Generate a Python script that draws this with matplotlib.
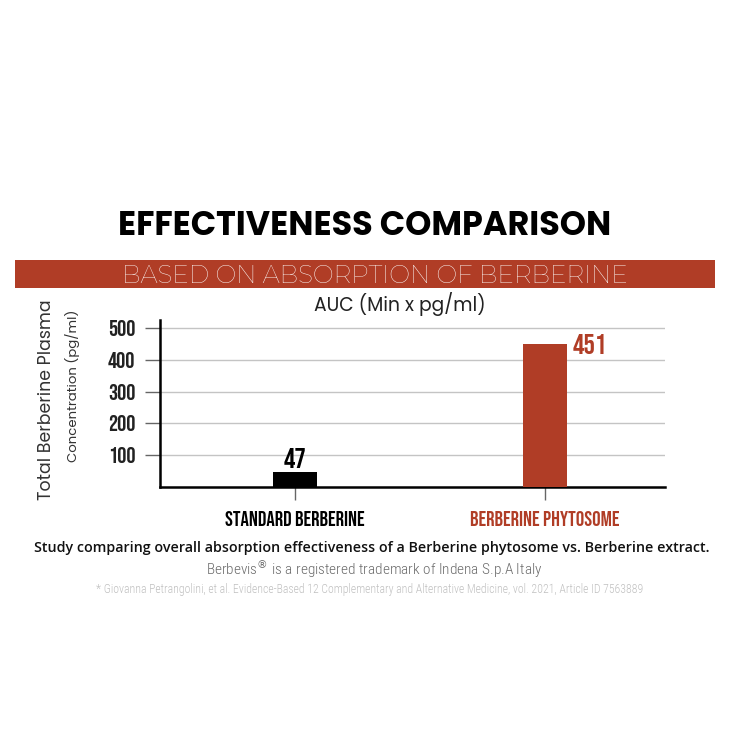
import matplotlib
matplotlib.use('Agg')
import matplotlib.pyplot as plt
from matplotlib.patches import Rectangle

categories = ['STANDARD BERBERINE', 'BERBERINE PHYTOSOME']
auc_values = [47, 451]
value_labels = ['47', '451']
y_ticks = [100, 200, 300, 400, 500]

RED = '#b03d26'
BODY = ['Poppins', 'DejaVu Sans']
WIDE = ['Montserrat', 'Poppins', 'DejaVu Sans']
BEBAS = ['Bebas Neue', 'Oswald', 'DejaVu Sans']
COND = ['Roboto Condensed', 'DejaVu Sans']

W = 744


def fx(px):
    return px / W


def fy(py):
    return 1 - py / W


fig = plt.figure(figsize=(7.44, 7.44), dpi=100)
fig.patch.set_facecolor('white')

# headings
fig.text(fx(365), fy(235), 'EFFECTIVENESS COMPARISON', ha='center', va='baseline',
         fontsize=24, fontweight='bold', color='black', family=BODY)
fig.patches.append(Rectangle((fx(15), fy(288)), fx(700), fx(28), transform=fig.transFigure,
                             facecolor=RED, edgecolor='none'))
fig.text(fx(375), fy(283), 'BASED ON ABSORPTION OF BERBERINE', ha='center', va='baseline',
         fontsize=17.8, color='white', family=WIDE)
fig.text(fx(400), fy(304), 'AUC (Min x pg/ml)', ha='center', va='center',
         fontsize=13.5, color='#222222', family=BODY)

# y axis labels
fig.text(fx(47), fy(400), 'Total Berberine Plasma', ha='center', va='center', rotation=90,
         fontsize=12.5, color='#333333', family=BODY)
fig.text(fx(72), fy(386), 'Concentration (pg/ml)', ha='center', va='center', rotation=90,
         fontsize=9.5, color='#333333', family=BODY)

ax = fig.add_axes([fx(160), fy(487), fx(505), fx(487 - 320)])
x = [0, 1]
ax.bar(x, auc_values, width=0.176, color=['black', RED], zorder=3)
ax.set_xlim(-0.54, 1.48)
ax.set_ylim(0, 525)
ax.set_yticks(y_ticks)
ax.set_yticklabels([str(t) for t in y_ticks], family=BEBAS, fontsize=16.5, color='#222222')
ax.set_xticks(x)
ax.set_xticklabels(categories, family=BEBAS, fontsize=15)
for lbl, c in zip(ax.get_xticklabels(), ['black', RED]):
    lbl.set_color(c)
ax.tick_params(axis='y', length=10.8, width=1.0, color='#666666', pad=7)
ax.tick_params(axis='x', length=9.4, width=1.0, color='#666666', pad=8)
ax.grid(axis='y', color='#c4c4c4', linewidth=1.0, zorder=0)
for s in ['top', 'right']:
    ax.spines[s].set_visible(False)
ax.spines['left'].set_linewidth(1.8)
ax.spines['bottom'].set_linewidth(1.8)

ax.text(x[0], auc_values[0] + 14, value_labels[0], ha='center', va='bottom',
        family=BEBAS, fontsize=20.5, color='black')
ax.text(x[1] + 0.11, auc_values[1], value_labels[1], ha='left', va='center_baseline',
        family=BEBAS, fontsize=20.5, color=RED)

# footnotes
fig.text(fx(372), fy(548), 'Study comparing overall absorption effectiveness of a Berberine phytosome vs. Berberine extract.',
         ha='center', va='center', fontsize=10.3, fontweight='semibold', color='#111111', family=['Open Sans', 'DejaVu Sans'])
fig.text(fx(374), fy(569), 'Berbevis$^{®}$ is a registered trademark of Indena S.p.A Italy',
         ha='center', va='center', fontsize=11, fontweight='light', color='#6a6a6a', family=COND)
fig.text(fx(370), fy(590), '* Giovanna Petrangolini, et al. Evidence-Based 12 Complementary and Alternative Medicine, vol. 2021, Article ID 7563889',
         ha='center', va='center', fontsize=8.5, fontweight='light', color='#c0c0c0', family=COND)

fig.savefig('out.png', dpi=100, facecolor='white')
